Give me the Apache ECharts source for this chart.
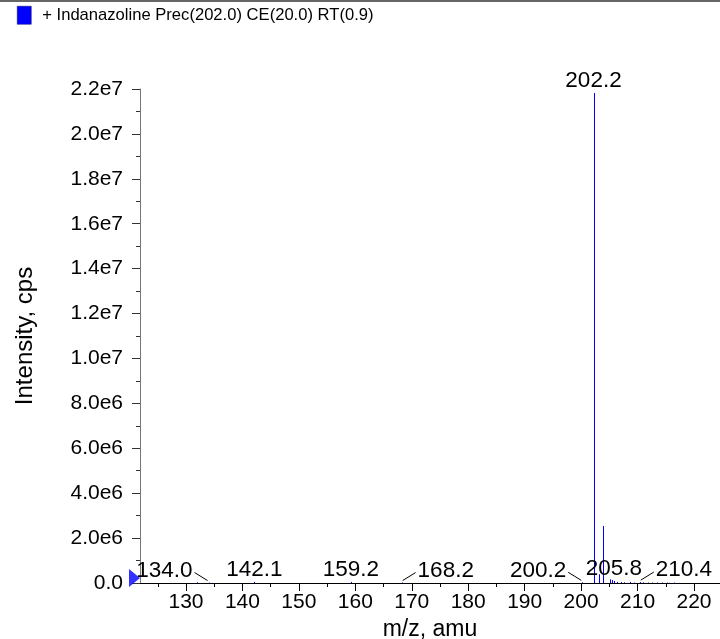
<!DOCTYPE html>
<html><head><meta charset="utf-8">
<script src="https://cdn.jsdelivr.net/npm/echarts@6/dist/echarts.min.js"></script>
<style>html,body{margin:0;padding:0;background:#fff}#c{width:720px;height:639px}</style>
</head><body><div id="c"></div>
<script>
const seriesName = '+ Indanazoline Prec(202.0) CE(20.0) RT(0.9)';
const xAxisName = 'm/z, amu';
const yAxisName = 'Intensity, cps';
// peak m/z values and intensities (cps)
const mzValues =        [131.9, 134.0, 142.1, 159.2, 168.2, 200.2, 202.2,   203.1,  203.8,   205.2,  205.5,  205.8, 206.4, 207.0, 207.6, 208.6, 209.3, 210.4, 211.0, 211.8, 212.6, 213.5, 214.4, 215.3, 216.5];
const intensityValues = [3e4,   2e4,   5e4,   5e4,   2e4,   3e4,   2.182e7, 3.9e5,  2.54e6,  1.6e5,  1.3e5,  9e4,   5e4,   4e4,   3e4,   5e4,   2e4,   4e4,   3e4,   2e4,   2e4,   2e4,   2e4,   2e4,   2e4];
// annotated peaks
const labeledMz = [134.0, 142.1, 159.2, 168.2, 200.2, 202.2, 205.8, 210.4];
// axis ticks
const xTickValues = [130, 140, 150, 160, 170, 180, 190, 200, 210, 220];
const xMinorTickValues = [125, 135, 145, 155, 165, 175, 185, 195, 205, 215];
const yTickValues = [0, 2e6, 4e6, 6e6, 8e6, 1e7, 1.2e7, 1.4e7, 1.6e7, 1.8e7, 2e7, 2.2e7];
const xRange = [121.85, 224.61];

const labelSide = {'134': 'left', '168.2': 'right', '200.2': 'left', '210.4': 'right'};
const FONT = 'Liberation Sans, Arial, Helvetica, sans-serif';

const stickData = mzValues.map((m, i) => [m, intensityValues[i]]);
const labelData = labeledMz.map(m => [m, intensityValues[mzValues.indexOf(m)]]);

function fmtY(v) {
  if (v === 0) return '0.0';
  const e = Math.floor(Math.log10(v) + 1e-9);
  const m = v / Math.pow(10, e);
  return m.toFixed(1) + 'e' + e;
}

const chart = echarts.init(document.getElementById('c'), null, {renderer: 'canvas'});
chart.setOption({
  animation: false,
  textStyle: {fontFamily: FONT},
  grid: {left: 140, right: 0, top: 89, bottom: 56, containLabel: false, outerBoundsMode: 'none'},
  legend: {
    left: 17, top: 6, padding: 0, itemWidth: 14, itemHeight: 18, icon: 'rect',
    data: [seriesName], selectedMode: false,
    itemStyle: {borderColor: '#000060', borderWidth: 0.5},
    textStyle: {fontSize: 16.6, color: '#000', fontFamily: FONT, padding: [0, 0, 0, 6]}
  },
  xAxis: [{
    type: 'value', position: 'bottom', min: xRange[0], max: xRange[1],
    name: xAxisName, nameLocation: 'middle', nameGap: 33,
    nameTextStyle: {fontSize: 23, color: '#000', fontFamily: FONT},
    axisLine: {show: true, onZero: false, lineStyle: {color: '#000', width: 1}},
    axisTick: {show: true, length: 8, customValues: xTickValues, lineStyle: {color: '#000'}},
    axisLabel: {customValues: xTickValues, fontSize: 21, color: '#000', margin: 9, fontFamily: FONT},
    splitLine: {show: false}
  }, {
    type: 'value', position: 'bottom', min: xRange[0], max: xRange[1],
    axisLine: {show: false},
    axisTick: {show: true, length: 4, customValues: xMinorTickValues, lineStyle: {color: '#000'}},
    axisLabel: {show: false},
    splitLine: {show: false}
  }],
  yAxis: {
    type: 'value', min: yTickValues[0], max: yTickValues[yTickValues.length - 1], interval: 2e6,
    name: yAxisName, nameLocation: 'middle', nameGap: 103,
    nameTextStyle: {fontSize: 24, color: '#000', fontFamily: FONT},
    axisLine: {show: true, lineStyle: {color: '#777', width: 1}},
    axisTick: {show: true, length: 8, lineStyle: {color: '#333'}},
    minorTick: {show: true, splitNumber: 2, length: 4, lineStyle: {color: '#333'}},
    axisLabel: {fontSize: 21, color: '#000', margin: 17, formatter: fmtY, fontFamily: FONT},
    splitLine: {show: false}
  },
  series: [{
    name: seriesName, type: 'custom', xAxisIndex: 0, yAxisIndex: 0,
    itemStyle: {color: '#0000ff'},
    data: stickData, clip: true,
    renderItem: function (params, api) {
      const top = api.coord([api.value(0), api.value(1)]);
      const base = api.coord([api.value(0), 0]);
      const x = Math.round(top[0]) + 0.5;
      return {type: 'line', shape: {x1: x, y1: top[1], x2: x, y2: base[1]},
        style: {stroke: '#0000ff', lineWidth: 1}};
    }
  }, {
    name: 'labels', type: 'custom', xAxisIndex: 0, yAxisIndex: 0,
    data: labelData, silent: true, clip: false,
    renderItem: function (params, api) {
      const mz = api.value(0);
      const p = api.coord([mz, api.value(1)]);
      const side = labelSide[String(mz)] || 'top';
      const txt = mz.toFixed(1);
      const ts = {fill: '#000', fontSize: 22.5, fontFamily: FONT};
      if (side === 'top') {
        return {type: 'text', style: Object.assign({text: txt, x: p[0], y: p[1] - 1, align: 'center', verticalAlign: 'bottom'}, ts)};
      }
      const dir = side === 'left' ? -1 : 1;
      return {type: 'group', children: [
        {type: 'line', shape: {x1: p[0] + dir * 14, y1: p[1] - 10, x2: p[0] + dir * 1, y2: p[1] - 2},
          style: {stroke: '#000', lineWidth: 1}},
        {type: 'text', style: Object.assign({text: txt, x: p[0] + dir * 16, y: p[1] - 12,
          align: side === 'left' ? 'right' : 'left', verticalAlign: 'middle'}, ts)}
      ]};
    }
  }, {
    name: 'marker', type: 'scatter', xAxisIndex: 0, yAxisIndex: 0, silent: true, clip: false,
    symbol: 'path://M0,0 L10,9 L0,18 Z', symbolSize: [11, 18], symbolOffset: [-5.5, -5],
    itemStyle: {color: '#0000ff'},
    data: [[xRange[0], 0]]
  }],
  graphic: [{
    type: 'line', shape: {x1: 0, y1: 1, x2: 720, y2: 1}, style: {stroke: '#666', lineWidth: 2}, silent: true
  }]
});
</script>
</body></html>
